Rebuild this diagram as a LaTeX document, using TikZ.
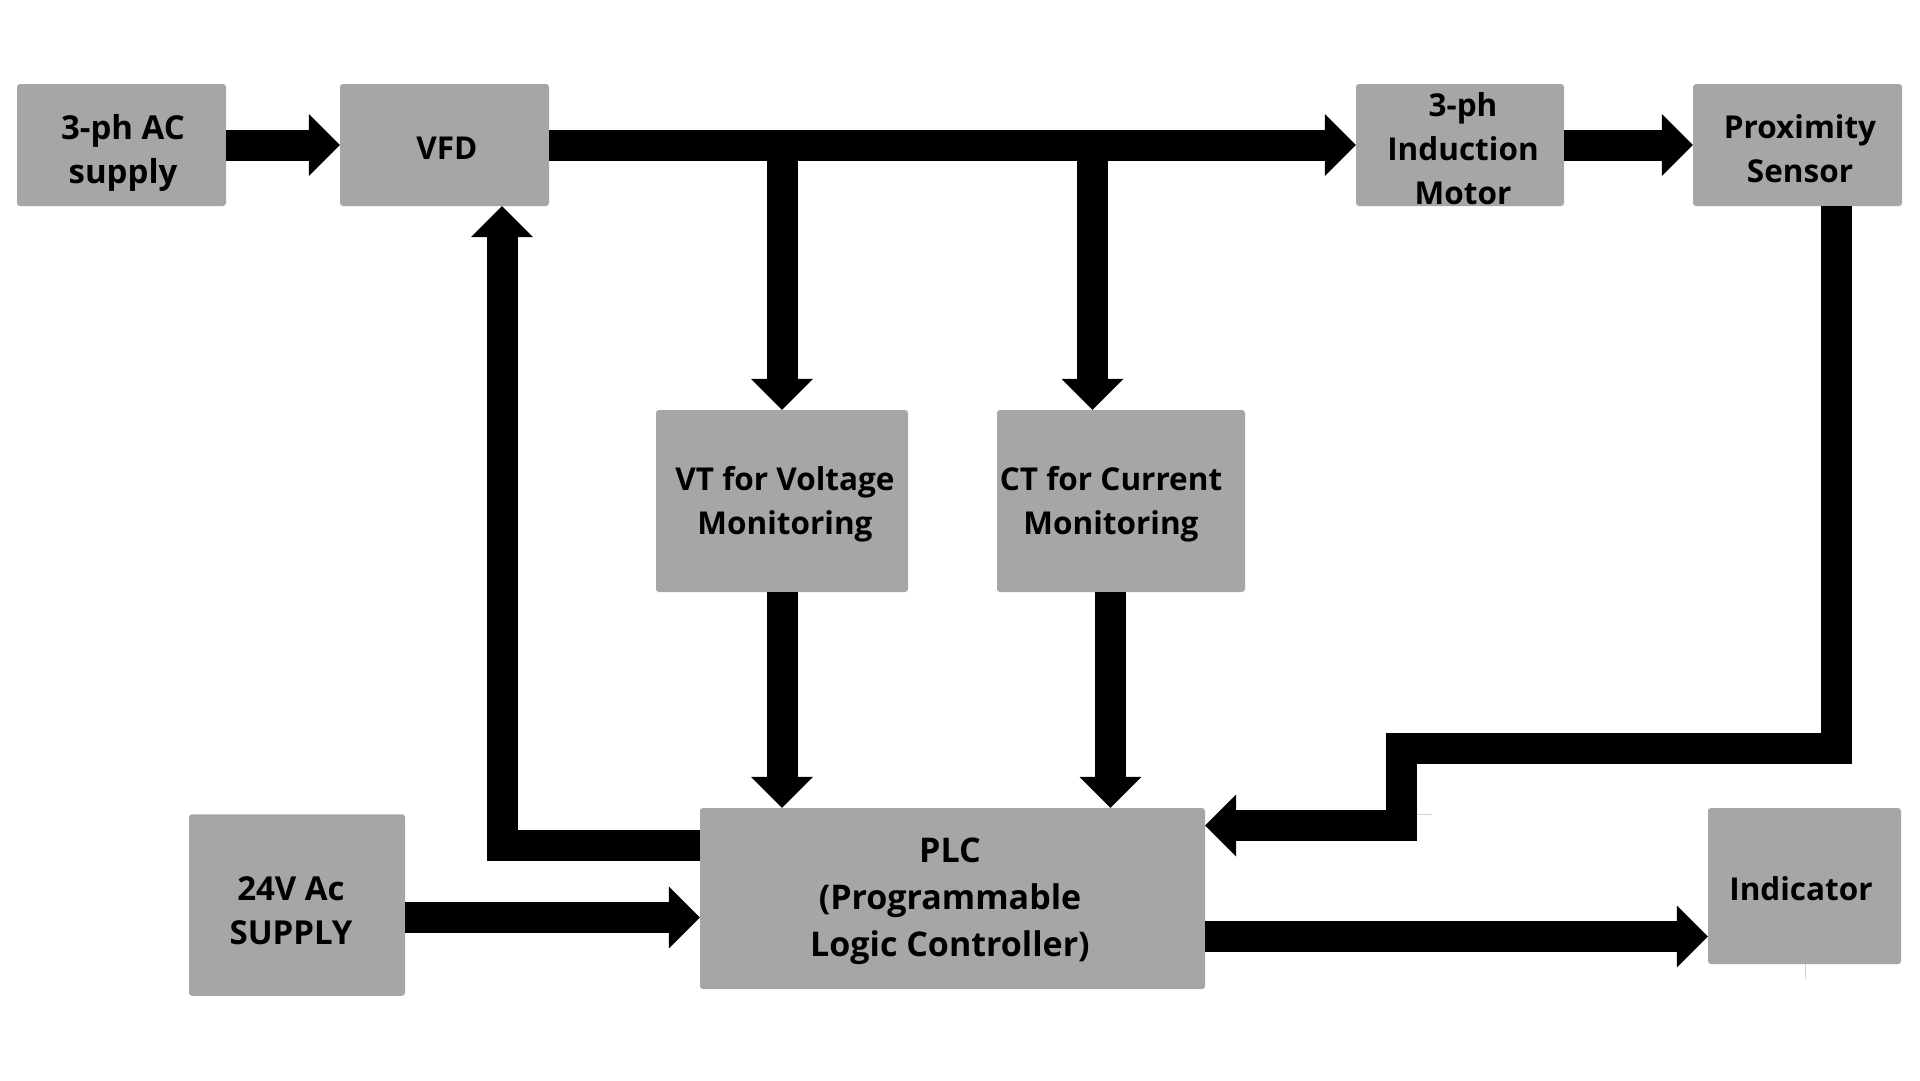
\documentclass[tikz,border=0pt]{standalone}
\usepackage{fontspec}
\setmainfont{Open Sans}
\usetikzlibrary{arrows.meta}
\definecolor{boxgray}{HTML}{A6A6A6}
\definecolor{faint}{HTML}{D0D0D0}
\begin{document}
\begin{tikzpicture}[x=1pt,y=-1pt,
  box/.style={rectangle, rounded corners=3pt, fill=boxgray, draw=none, inner sep=0pt},
  txt/.style={inner sep=0pt, align=center, font=\fontsize{31.5}{44}\selectfont\bfseries},
  bigtxt/.style={txt, font=\fontsize{33}{44}\selectfont\bfseries},
  conn/.style={line width=31pt, line join=miter, -{Triangle[length=31pt,width=62pt,line width=0pt]}}]
\fill[white] (0,0) rectangle (1920,1080);
\useasboundingbox (0,0) rectangle (1920,1080);

% boxes
\node[box, minimum width=209pt, minimum height=122pt] (ac)    at (121.5,145) {};
\node[box, minimum width=209pt, minimum height=122pt] (vfd)   at (444.5,145) {};
\node[box, minimum width=208pt, minimum height=122pt] (motor) at (1460,145) {};
\node[box, minimum width=209pt, minimum height=122pt] (prox)  at (1797.5,145) {};
\node[box, minimum width=252pt, minimum height=182pt] (vt)    at (782,501) {};
\node[box, minimum width=248pt, minimum height=182pt] (ct)    at (1121,501) {};
\node[box, minimum width=505pt, minimum height=181pt] (plc)   at (952.5,898.5) {};
\node[box, minimum width=216pt, minimum height=181.5pt] (sup) at (297,905) {};
\node[box, minimum width=193pt, minimum height=156pt] (ind)   at (1804.5,886) {};

% texts
\node[bigtxt] (tac) at (123,152.5)  {3-ph AC\\supply};
\node[txt] (tvfd)   at (447,148)  {VFD};
\node[txt] (tmotor) at (1463,149) {3-ph\\Induction\\Motor};
\node[txt] (tprox)  at (1800,149) {Proximity\\Sensor};
\node[txt] (tvt)    at (785,504)  {VT for Voltage\\Monitoring};
\node[txt] (tct)    at (1111,504) {CT for Current\\Monitoring};
\node[txt, font=\fontsize{34}{47}\selectfont\bfseries] (tplc) at (950,901) {PLC\\(Programmable\\Logic Controller)};
\node[bigtxt] (tsup) at (291,911) {24V Ac\\SUPPLY};
\node[txt] (tind)   at (1801,889) {Indicator};

% helper coordinates
\coordinate (ctdrop) at ([xshift=-28.5pt]ct.north);
\coordinate (ctout)  at ([xshift=-10.5pt]ct.south);
\coordinate (fbout)  at ([yshift=53pt]plc.west);
\coordinate (fbin)   at ([xshift=57.5pt]vfd.south);
\coordinate (supout) at ([yshift=-12.5pt]sup.east);
\coordinate (plcout) at ([yshift=-38pt]plc.east);
\coordinate (proxout) at ([xshift=38.5pt]prox.south);
\coordinate (jog)    at (1401,748.5);
\coordinate (plcin)  at ([yshift=73pt]plc.east);

% connectors
\draw[conn] (ac.east) -- (vfd.west);
\draw[conn] (vfd.east) -- (motor.west);
\draw[conn] (vt.north |- vfd.east) -- (vt.north);
\draw[conn] (ctdrop |- vfd.east) -- (ctdrop);
\draw[conn] (motor.east) -- (prox.west);
\draw[conn] (vt.south) -- (vt.south |- plc.north);
\draw[conn] (ctout) -- (ctout |- plc.north);
\draw[conn] (fbout) -| (fbin);
\draw[conn] (supout) -- (supout -| plc.west);
\draw[conn] (plcout) -- (plcout -| ind.west);
\draw[conn] (proxout) |- (jog) |- (plcin);

% faint stray marks
\draw[faint, line width=1pt] (1417,814.5) -- (1432,814.5);
\draw[faint, line width=1pt] (1805,964) -- (1805,979);
\end{tikzpicture}
\end{document}
